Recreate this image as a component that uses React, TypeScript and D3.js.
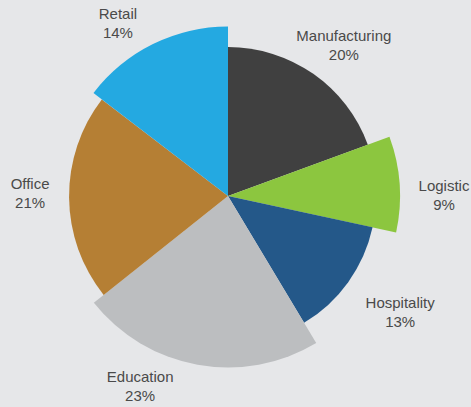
import React, { useEffect, useRef } from 'react';
import * as d3 from 'd3';

// sectors, clockwise from 12 o'clock
const categories = ['Manufacturing', 'Logistic', 'Hospitality', 'Education', 'Office', 'Retail'];
// wedge sizes as drawn (the printed labels are rounded)
const shares = [19.4, 9.0, 13.0, 22.9, 21.1, 14.6];
const pctLabels = ['20%', '9%', '13%', '23%', '21%', '14%'];
// relative reach of each wedge (1 = longest)
const reach = [0.866, 1.0, 0.86, 0.997, 0.924, 0.985];
const colors = ['#404040', '#8cc63f', '#245889', '#bcbec0', '#b57f34', '#24a9e1'];

// label placement tweaks: [angle offset in degrees, gap beyond wedge]
const labelNudge: [number, number][] = [
  [2.65, 41], [3.85, 44], [-1.65, 59.7], [14.5, 38.3], [1.15, 39], [-6.3, 35],
];

export default function App() {
  const svgRef = useRef<SVGSVGElement>(null);
  const width = 471;
  const height = 407;

  useEffect(() => {
    if (!svgRef.current) return;
    const svg = d3.select(svgRef.current);
    svg.selectAll('*').remove();

    svg.append('rect')
      .attr('width', width)
      .attr('height', height)
      .attr('fill', '#e6e7e9');

    const cx = 228;
    const cy = 196;
    const maxR = 172;

    const rScale = d3.scaleLinear().domain([0, 1]).range([0, maxR]);

    const data = categories.map((name, i) => ({ name, value: shares[i], reach: reach[i], i }));

    const pie = d3.pie<typeof data[number]>()
      .sort(null)
      .value(d => d.value);

    const arcs = pie(data);

    const arc = d3.arc<d3.PieArcDatum<typeof data[number]>>()
      .innerRadius(0)
      .outerRadius(d => rScale(d.data.reach));

    const g = svg.append('g').attr('transform', `translate(${cx},${cy})`);

    g.selectAll('path.slice')
      .data(arcs)
      .enter()
      .append('path')
      .attr('class', 'slice')
      .attr('d', arc as any)
      .attr('fill', d => colors[d.data.i]);

    // labels
    const labels = g.selectAll('g.label')
      .data(arcs)
      .enter()
      .append('g')
      .attr('class', 'label')
      .attr('transform', d => {
        const [da, gap] = labelNudge[d.data.i];
        const a = (d.startAngle + d.endAngle) / 2 + (da * Math.PI) / 180;
        const r = rScale(d.data.reach) + gap;
        return `translate(${r * Math.sin(a)},${-r * Math.cos(a)})`;
      });

    labels.append('text')
      .attr('y', -4.5)
      .attr('text-anchor', 'middle')
      .text(d => d.data.name);

    labels.append('text')
      .attr('y', 14.5)
      .attr('text-anchor', 'middle')
      .text(d => pctLabels[d.data.i]);

    labels.selectAll('text')
      .attr('font-family', '"Liberation Sans", Arial, sans-serif')
      .attr('font-size', 15)
      .attr('fill', '#4a4a4a');
  }, []);

  return (
    <svg
      ref={svgRef}
      width={width}
      height={height}
      style={{ position: 'absolute', left: 0, top: 0, display: 'block' }}
    />
  );
}
